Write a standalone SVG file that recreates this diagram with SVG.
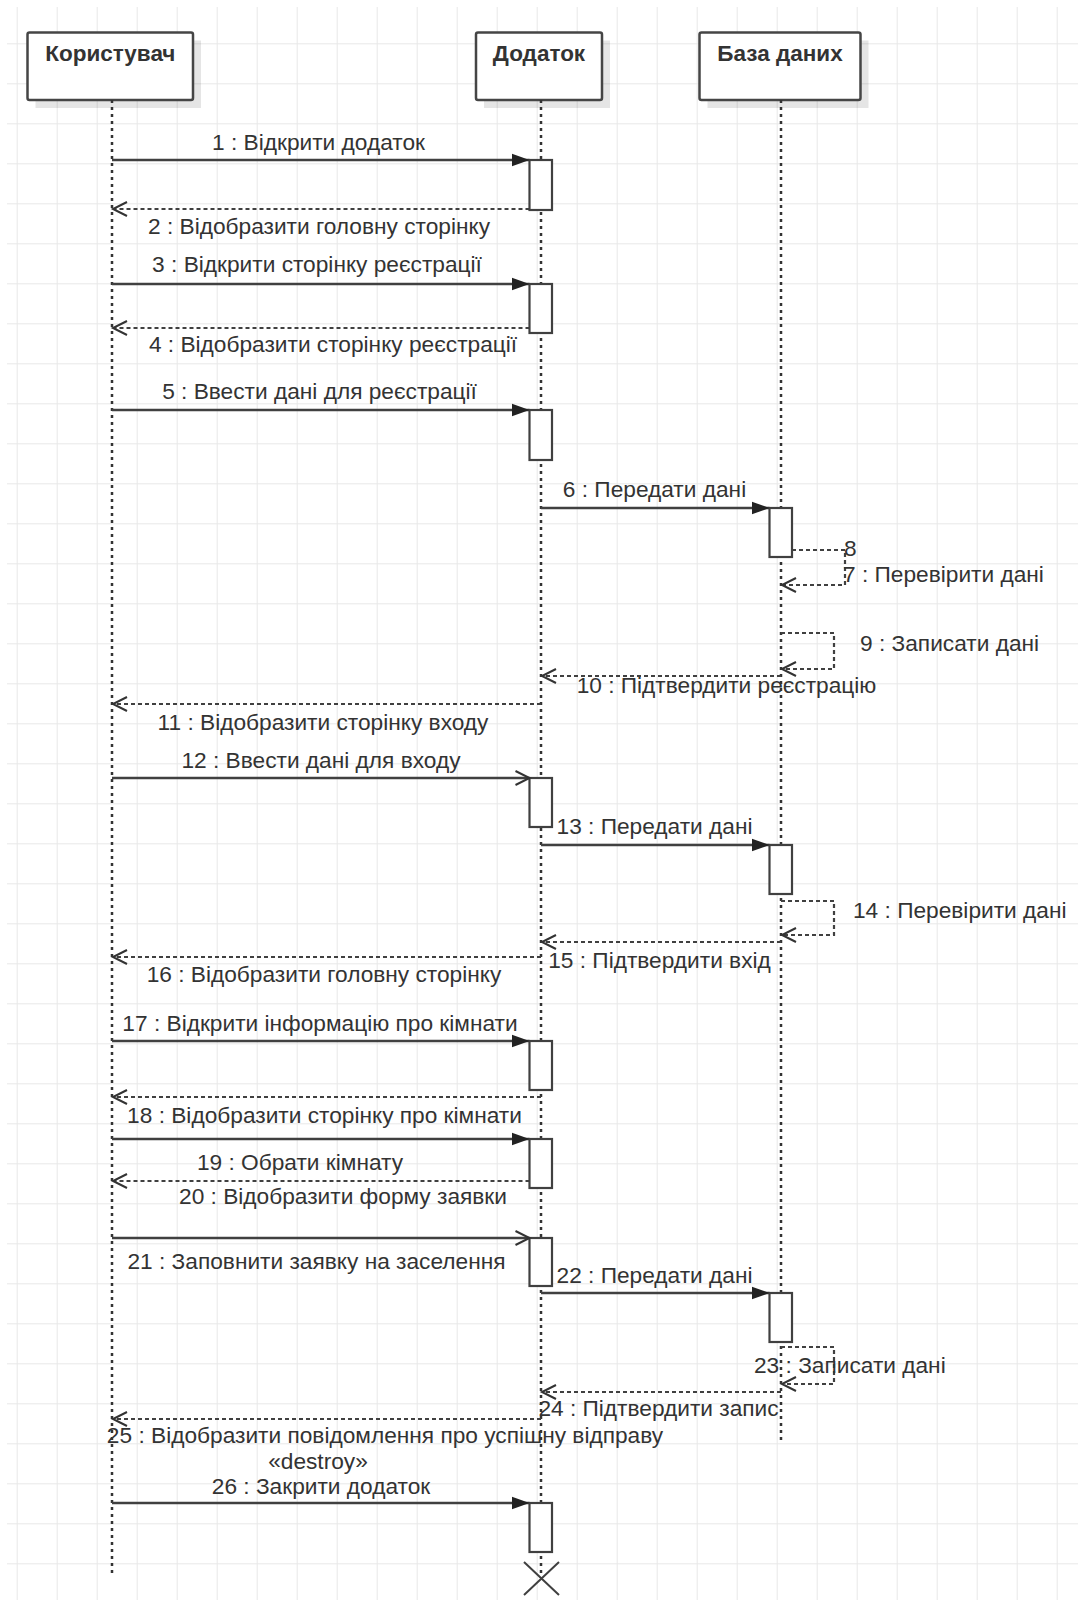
<svg xmlns="http://www.w3.org/2000/svg" width="1078" height="1600" viewBox="0 0 1078 1600">
<defs>
<style>
.t{font-family:"Liberation Sans",Arial,sans-serif;font-size:22.7px;fill:#333}
.m{text-anchor:middle}
.h{font-family:"Liberation Sans",Arial,sans-serif;font-size:22.5px;font-weight:bold;fill:#333;text-anchor:middle}
.box{fill:#fff;stroke:#454545;stroke-width:2.5}
.sh{fill:#000;opacity:0.1}
.life{stroke:#333;stroke-width:2.5;stroke-dasharray:3 4;fill:none}
.act{fill:#fff;stroke:#404040;stroke-width:2.2}
.call{stroke:#404040;stroke-width:2.6;fill:none;marker-end:url(#fill)}
.callo{stroke:#404040;stroke-width:2.6;fill:none;marker-end:url(#open)}
.ret{stroke:#404040;stroke-width:2.2;stroke-dasharray:4 3;fill:none;marker-end:url(#open)}
.grid{stroke:#e8e8e8;stroke-width:2}
</style>
<pattern id="g" patternUnits="userSpaceOnUse" x="16.7" y="3.3" width="40" height="40">
<line class="grid" x1="0" y1="0" x2="0" y2="40"/>
<line class="grid" x1="0" y1="0" x2="40" y2="0"/>
</pattern>
<marker id="fill" markerUnits="userSpaceOnUse" markerWidth="20" markerHeight="14" refX="18" refY="7" orient="auto">
<path d="M0,0.5 L18,7 L0,13.5 z" fill="#222"/>
</marker>
<marker id="open" markerUnits="userSpaceOnUse" markerWidth="18" markerHeight="18" refX="15" refY="8" orient="auto">
<path d="M1,1 L15,8 L1,15" fill="none" stroke="#333" stroke-width="2"/>
</marker>
</defs>
<rect x="0" y="0" width="1078" height="1600" fill="#fff"/>
<rect x="7" y="7" width="1071" height="1593" fill="url(#g)"/>

<g id="user">
<rect class="sh" x="35.5" y="40.5" width="165.5" height="67.5"/>
<rect class="box" x="27.5" y="32.5" width="165.5" height="67.5" rx="2"/>
<text class="h" x="110.3" y="61">Користувач</text>
<line class="life" x1="112" y1="100" x2="112" y2="1577"/>
</g>

<g id="app">
<rect class="sh" x="484" y="40.5" width="126" height="67.5"/>
<rect class="box" x="476" y="32.5" width="126" height="67.5" rx="2"/>
<text class="h" x="539" y="61">Додаток</text>
<line class="life" x1="541" y1="100" x2="541" y2="1578"/>
<rect class="act" x="529.5" y="160" width="22.5" height="50"/>
<rect class="act" x="529.5" y="284" width="22.5" height="49"/>
<rect class="act" x="529.5" y="410" width="22.5" height="50"/>
<rect class="act" x="529.5" y="778" width="22.5" height="49"/>
<rect class="act" x="529.5" y="1041" width="22.5" height="49"/>
<rect class="act" x="529.5" y="1139" width="22.5" height="49"/>
<rect class="act" x="529.5" y="1238" width="22.5" height="48"/>
<rect class="act" x="529.5" y="1503" width="22.5" height="49"/>
<path d="M524,1562 L559,1595 M559,1562 L524,1595" stroke="#404040" stroke-width="2" fill="none"/>
</g>

<g id="db">
<rect class="sh" x="707.5" y="40.5" width="161" height="67.5"/>
<rect class="box" x="699.5" y="32.5" width="161" height="67.5" rx="2"/>
<text class="h" x="780" y="61">База даних</text>
<line class="life" x1="781" y1="100" x2="781" y2="1441"/>
<rect class="act" x="769.5" y="508" width="22.5" height="49"/>
<rect class="act" x="769.5" y="845" width="22.5" height="49"/>
<rect class="act" x="769.5" y="1293" width="22.5" height="49"/>
</g>

<g id="connectors">
<line class="call" x1="112" y1="160" x2="529.5" y2="160"/>
<line class="ret" x1="529.5" y1="209" x2="113" y2="209"/>
<line class="call" x1="112" y1="284" x2="529.5" y2="284"/>
<line class="ret" x1="529.5" y1="328" x2="113" y2="328"/>
<line class="call" x1="112" y1="410" x2="529.5" y2="410"/>
<line class="call" x1="541" y1="508" x2="769.5" y2="508"/>
<polyline class="ret" points="792,550 845,550 845,585 782,585"/>
<polyline class="ret" points="781,633 834,633 834,669 782,669"/>
<line class="ret" x1="781" y1="676" x2="542" y2="676"/>
<line class="ret" x1="541" y1="704" x2="113" y2="704"/>
<line class="callo" x1="112" y1="778" x2="529.5" y2="778"/>
<line class="call" x1="541" y1="845" x2="769.5" y2="845"/>
<polyline class="ret" points="781,901 834,901 834,935 782,935"/>
<line class="ret" x1="781" y1="942" x2="542" y2="942"/>
<line class="ret" x1="541" y1="957" x2="113" y2="957"/>
<line class="call" x1="112" y1="1041" x2="529.5" y2="1041"/>
<line class="ret" x1="541" y1="1097" x2="113" y2="1097"/>
<line class="call" x1="112" y1="1139" x2="529.5" y2="1139"/>
<line class="ret" x1="529.5" y1="1181" x2="113" y2="1181"/>
<line class="callo" x1="112" y1="1238" x2="529.5" y2="1238"/>
<line class="call" x1="541" y1="1293" x2="769.5" y2="1293"/>
<polyline class="ret" points="781,1347 834,1347 834,1384 782,1384"/>
<line class="ret" x1="781" y1="1392" x2="542" y2="1392"/>
<line class="ret" x1="541" y1="1419" x2="113" y2="1419"/>
<line class="call" x1="112" y1="1503" x2="529.5" y2="1503"/>

<text class="t m" x="318.5" y="150">1 : Відкрити додаток</text>
<text class="t m" x="319" y="234">2 : Відобразити головну сторінку</text>
<text class="t m" x="317" y="272">3 : Відкрити сторінку реєстрації</text>
<text class="t m" x="333" y="351.5">4 : Відобразити сторінку реєстрації</text>
<text class="t m" x="319.5" y="399">5 : Ввести дані для реєстрації</text>
<text class="t m" x="654.5" y="497">6 : Передати дані</text>
<text class="t" x="844" y="556">8</text>
<text class="t" x="843" y="582">7 : Перевірити дані</text>
<text class="t" x="860" y="651">9 : Записати дані</text>
<text class="t m" x="726.5" y="693">10 : Підтвердити реєстрацію</text>
<text class="t m" x="323" y="729.5">11 : Відобразити сторінку входу</text>
<text class="t m" x="321" y="767.5">12 : Ввести дані для входу</text>
<text class="t m" x="654.5" y="834">13 : Передати дані</text>
<text class="t" x="853" y="917.5">14 : Перевірити дані</text>
<text class="t m" x="659.5" y="967.5">15 : Підтвердити вхід</text>
<text class="t m" x="324" y="981.5">16 : Відобразити головну сторінку</text>
<text class="t m" x="320" y="1030.5">17 : Відкрити інформацію про кімнати</text>
<text class="t m" x="324.5" y="1122.5">18 : Відобразити сторінку про кімнати</text>
<text class="t m" x="300" y="1170">19 : Обрати кімнату</text>
<text class="t m" x="343" y="1204">20 : Відобразити форму заявки</text>
<text class="t m" x="316.5" y="1268.5">21 : Заповнити заявку на заселення</text>
<text class="t m" x="654.5" y="1282.5">22 : Передати дані</text>
<text class="t" x="754" y="1372.5">23 : Записати дані</text>
<text class="t m" x="658.5" y="1415.5">24 : Підтвердити запис</text>
<text class="t m" x="385" y="1442.5">25 : Відобразити повідомлення про успішну відправу</text>
<text class="t m" x="318" y="1468.5">«destroy»</text>
<text class="t m" x="321" y="1493.5">26 : Закрити додаток</text>
</g>
</svg>
